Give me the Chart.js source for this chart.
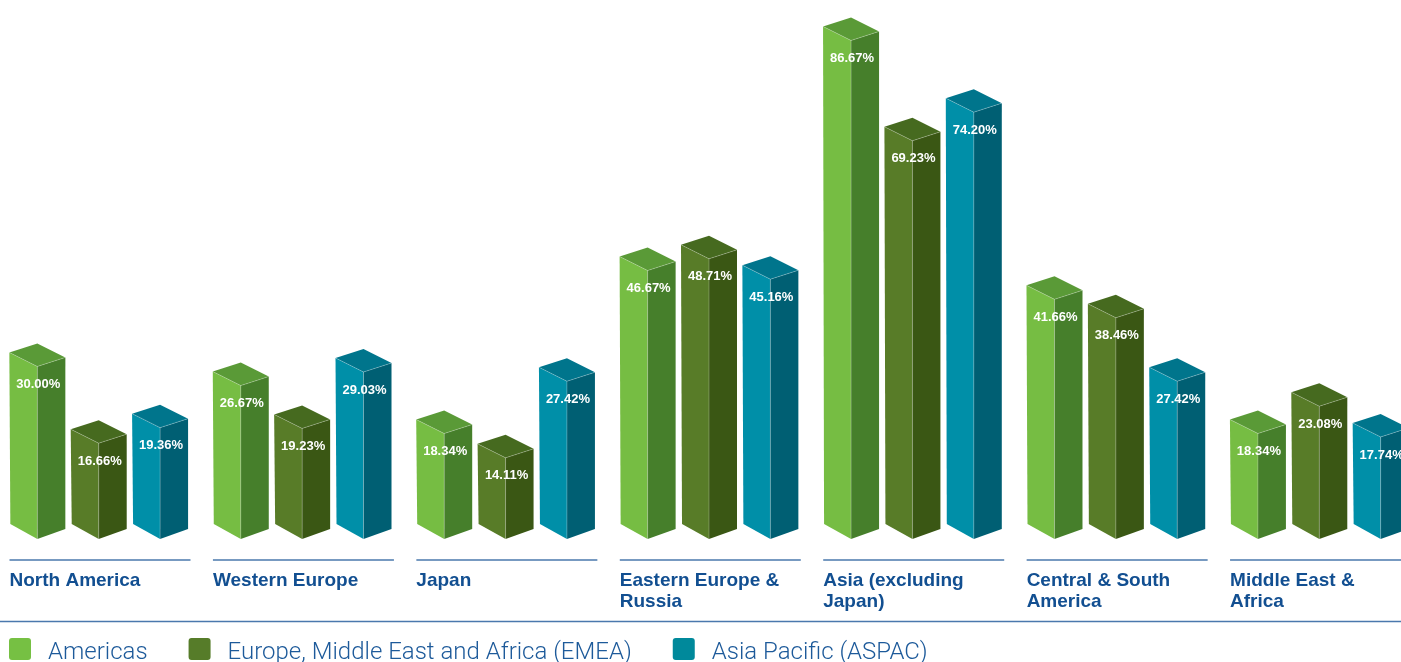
<!DOCTYPE html>
<html>
<head>
<meta charset="utf-8">
<script src="https://cdn.jsdelivr.net/npm/chart.js@4/dist/chart.umd.min.js"></script>
<style>
  html, body { margin: 0; padding: 0; background: #fff; overflow: hidden; }
  #wrap { position: relative; left: -3px; width: 1424px; height: 662px; }
</style>
</head>
<body>
<div id="wrap"><canvas id="regionChart"></canvas></div>
<script>
// Regions and the share of respondents per office region
const regions = [
  ['North America'],
  ['Western Europe'],
  ['Japan'],
  ['Eastern Europe &', 'Russia'],
  ['Asia (excluding', 'Japan)'],
  ['Central & South', 'America'],
  ['Middle East &', 'Africa']
];
const seriesNames = ['Americas', 'Europe, Middle East and Africa (EMEA)', 'Asia Pacific (ASPAC)'];
const americas = [30.00, 26.67, 18.34, 46.67, 86.67, 41.66, 18.34];
const emea = [16.66, 19.23, 14.11, 48.71, 69.23, 38.46, 23.08];
const aspac = [19.36, 29.03, 27.42, 45.16, 74.20, 27.42, 17.74];

// face colours for the 3d boxes: front-left, right side, top
const faces = [
  { left: '#76bd43', right: '#467f2b', top: '#5a9a37', key: '#76c043' },
  { left: '#587c28', right: '#3a5714', top: '#466a1f', key: '#567c29' },
  { left: '#008fa8', right: '#005f73', top: '#00758c', key: '#00899b' }
];
const blue = '#124f91';
const lineBlue = '#4a78ad';

function poly(ctx, pts, fill) {
  ctx.beginPath();
  ctx.moveTo(pts[0][0], pts[0][1]);
  for (let k = 1; k < pts.length; k++) ctx.lineTo(pts[k][0], pts[k][1]);
  ctx.closePath();
  ctx.fillStyle = fill;
  ctx.fill();
}

// draws each bar as a box seen from its front corner
const boxes3d = {
  id: 'boxes3d',
  afterDatasetsDraw(chart) {
    const ctx = chart.ctx;
    ctx.save();
    chart.data.datasets.forEach((ds, i) => {
      const c = faces[i];
      chart.getDatasetMeta(i).data.forEach((bar, j) => {
        const x = bar.x, top = bar.y, base = bar.base;
        poly(ctx, [[x - 28, top - 14], [x, top], [x, base], [x - 27, base - 15]], c.left);
        poly(ctx, [[x, top], [x + 28, top - 9], [x + 28, base - 10], [x, base]], c.right);
        poly(ctx, [[x - 28, top - 14], [x, top - 23], [x + 28, top - 9], [x, top]], c.top);

        // soft highlight on the front edges
        ctx.beginPath();
        ctx.moveTo(x - 28, top - 14);
        ctx.lineTo(x, top);
        ctx.lineTo(x + 28, top - 9);
        ctx.moveTo(x, top);
        ctx.lineTo(x, base);
        ctx.strokeStyle = 'rgba(255,255,255,0.3)';
        ctx.lineWidth = 0.8;
        ctx.stroke();

        ctx.fillStyle = '#fff';
        ctx.font = 'bold 13px "Liberation Sans", Arial, sans-serif';
        ctx.textAlign = 'center';
        ctx.textBaseline = 'middle';
        ctx.fillText(ds.data[j].toFixed(2) + '%', x + 1, top + 18);
      });
    });
    ctx.restore();
  },
  afterDraw(chart) {
    const ctx = chart.ctx;
    const xs = chart.scales.x;
    const slot = xs.width / regions.length;
    ctx.save();

    // region names with a rule above each group
    regions.forEach((lines, i) => {
      const start = xs.getPixelForTick(i) - slot / 2 + 12.5;
      ctx.beginPath();
      ctx.moveTo(start, 560);
      ctx.lineTo(start + 181, 560);
      ctx.strokeStyle = lineBlue;
      ctx.lineWidth = 1.5;
      ctx.stroke();

      ctx.fillStyle = blue;
      ctx.font = 'bold 19px "Liberation Sans", Arial, sans-serif';
      ctx.textAlign = 'left';
      ctx.textBaseline = 'alphabetic';
      lines.forEach((t, k) => ctx.fillText(t, start, 586 + k * 21));
    });

    // full-width rule above the key
    ctx.beginPath();
    ctx.moveTo(0, 621.5);
    ctx.lineTo(chart.width, 621.5);
    ctx.strokeStyle = lineBlue;
    ctx.lineWidth = 1.5;
    ctx.stroke();

    // key
    let kx = 12;
    ctx.font = '300 24px Roboto, "Liberation Sans", sans-serif';
    seriesNames.forEach((name, i) => {
      ctx.beginPath();
      ctx.roundRect(kx, 638, 22, 22, 3);
      ctx.fillStyle = faces[i].key;
      ctx.fill();
      ctx.fillStyle = '#1d5a9a';
      ctx.fillText(name, kx + 39, 659);
      kx += 39 + ctx.measureText(name).width + 41;
    });
    ctx.restore();
  }
};

const ctx1 = document.getElementById('regionChart').getContext('2d');
new Chart(ctx1, {
  type: 'bar',
  data: {
    labels: regions,
    datasets: [americas, emea, aspac].map((vals, i) => ({
      label: seriesNames[i],
      data: vals,
      backgroundColor: 'rgba(0,0,0,0)',
      borderWidth: 0,
      categoryPercentage: 0.905,
      barPercentage: 0.9
    }))
  },
  options: {
    responsive: true,
    maintainAspectRatio: false,
    animation: false,
    layout: { padding: { top: 0, left: 0, right: 0, bottom: 123 } },
    plugins: { legend: { display: false }, tooltip: { enabled: false } },
    scales: {
      x: { display: false },
      y: { display: false, min: 0, max: 93.7 }
    }
  },
  plugins: [boxes3d]
});
</script>
</body>
</html>
